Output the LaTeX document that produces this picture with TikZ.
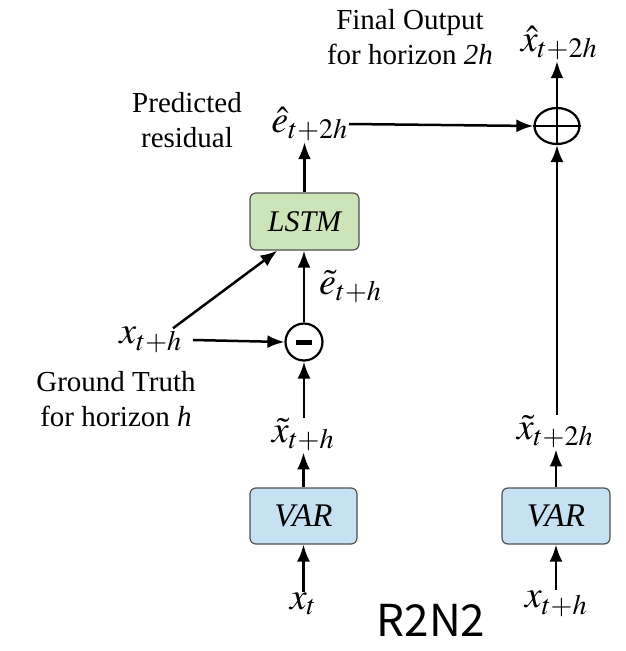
\documentclass[tikz,border=0pt]{standalone}
\usepackage{mathptmx}
\usepackage{fontspec}
\setmainfont{Liberation Serif}
\newfontfamily\rfont{Noto Sans CJK SC}
\usetikzlibrary{arrows.meta,shapes.geometric}
\definecolor{lstmgreen}{RGB}{204,228,184}
\definecolor{varblue}{RGB}{198,226,242}
\definecolor{boxline}{RGB}{80,80,80}
\tikzset{
  blk/.style={draw=boxline, line width=1.2pt, rounded corners=6pt},
  lbl/.style={font=\fontsize{38}{40}\selectfont, inner sep=1pt},
  txt/.style={font=\fontsize{29}{35}\selectfont, align=center, inner sep=0pt},
  arr/.style={line width=2.5pt, -{Latex[length=17pt,width=13pt]}},
  op/.style={draw, line width=2.2pt, inner sep=0pt},
}
\begin{document}
\begin{tikzpicture}[x=1pt,y=-1pt]
\useasboundingbox (0,0) rectangle (626,651);
% boxes
\node[blk, fill=lstmgreen, minimum width=109pt, minimum height=57pt,
      font=\fontsize{30}{32}\selectfont\itshape] (lstm) at (304.5,221.5) {LSTM};
\node[blk, fill=varblue, minimum width=107pt, minimum height=56pt,
      font=\fontsize{33}{35}\selectfont\itshape] (var1) at (303.5,516) {VAR};
\node[blk, fill=varblue, minimum width=108pt, minimum height=56pt,
      font=\fontsize{33}{35}\selectfont\itshape] (var2) at (556,516) {VAR};
% operators
\node[op, circle, minimum size=37pt] (minus) at (304,342) {};
\draw[line width=5pt] ([xshift=-8pt]minus.center) -- ([xshift=8pt]minus.center);
\node[op, ellipse, minimum width=45pt, minimum height=36pt] (plus) at (557,126) {};
\draw[line width=1.8pt] (plus.north) -- (plus.south) (plus.west) -- (plus.east);
% math labels
\node[lbl, anchor=east] (ehat) at (349,124) {$\hat{e}_{t+2h}$};
\node[lbl] (xhat) at (559,43) {$\hat{x}_{t+2h}$};
\node[lbl, anchor=west] (etil) at (318,287) {$\tilde{e}_{t+h}$};
\node[lbl, anchor=east] (xth) at (183,340) {$x_{t+h}$};
\node[lbl] (xtil1) at (303,435) {$\tilde{x}_{t+h}$};
\node[lbl] (xtil2) at (555,432) {$\tilde{x}_{t+2h}$};
\node[lbl] (xt) at (303,604) {$x_t$};
\node[lbl] (xth2) at (556,604) {$x_{t+h}$};
% text labels
\node[txt] (fo) at (410,37) {Final Output\\for horizon \textit{2h}};
\node[txt] (pr) at (187,120) {Predicted\\residual};
\node[txt] (gt) at (116,399) {Ground Truth\\for horizon \textit{h}};
\node[font=\rfont\fontsize{44}{46}\selectfont, inner sep=0pt] (r2n2) at (431,620) {R2N2};
% connectors
\draw[arr] (ehat.east) -- (plus.west);
\draw[arr] (plus.north) -- (plus.north |- xhat.south);
\draw[arr] (lstm.north) -- (lstm.north |- ehat.south);
\draw[arr] (minus.north) -- (minus.north |- lstm.south);
\draw[arr] (minus.south |- xtil1.north) -- (minus.south);
\draw[arr] (var1.north) -- (var1.north |- xtil1.south);
\draw[arr] (var1.south |- xt.north) -- (var1.south);
\draw[arr] ([xshift=10pt]xth.east) -- (minus.west);
\draw[arr] ([xshift=-10pt,yshift=-2pt]xth.north east) -- ([xshift=28pt]lstm.south west);
\draw[arr] (var2.north) -- (var2.north |- xtil2.south);
\draw[arr] (var2.south |- xth2.north) -- (var2.south);
\draw[arr] (plus.south |- xtil2.north) -- (plus.south);
\end{tikzpicture}
\end{document}
